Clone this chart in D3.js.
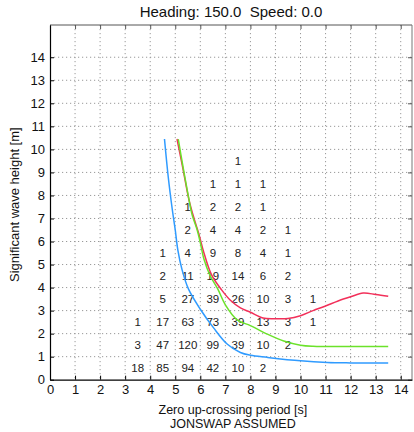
<!DOCTYPE html>
<html>
<head>
<meta charset="utf-8">
<script src="https://cdn.jsdelivr.net/npm/d3@7"></script>
<style>
  body { margin: 0; background: #fff; }
  svg { font-family: "Liberation Sans", Arial, sans-serif; }
</style>
</head>
<body>
<svg id="chart" width="414" height="432"></svg>
<script>
// scatter table: zero up-crossing period bins (columns) x Hs bins (rows)
const tzCenters = [3.5, 4.5, 5.5, 6.5, 7.5, 8.5, 9.5, 10.5];
const hsCenters = [0.5, 1.5, 2.5, 3.5, 4.5, 5.5, 6.5, 7.5, 8.5, 9.5];
const counts = [
    [18, 85, 94, 42, 10, 2, null, null],
    [3, 47, 120, 99, 39, 10, 2, null],
    [1, 17, 63, 73, 39, 13, 3, 1],
    [null, 5, 27, 39, 26, 10, 3, 1],
    [null, 2, 11, 19, 14, 6, 2, null],
    [null, 1, 4, 9, 8, 4, 1, null],
    [null, null, 2, 4, 4, 2, 1, null],
    [null, null, 1, 2, 2, 1, null, null],
    [null, null, null, 1, 1, 1, null, null],
    [null, null, null, null, 1, null, null, null]
];

// contour-like curves [Tz, Hs]
const blueCurve = [[4.57, 10.45], [4.72, 8.8], [4.88, 7.4], [5.0, 6.5], [5.1, 5.65], [5.27, 4.78],
    [5.53, 3.93], [6.0, 3.06], [6.53, 2.25], [7.07, 1.55], [7.6, 1.18], [8.0, 1.06], [8.67, 0.97],
    [10.0, 0.82], [11.07, 0.75], [12.0, 0.73], [13.5, 0.72]];
const greenCurve = [[5.12, 10.45], [5.3, 9.3], [5.5, 8.1], [5.67, 7.17], [5.87, 6.52], [6.0, 5.95],
    [6.15, 5.22], [6.4, 4.5], [6.7, 3.93], [7.0, 3.25], [7.47, 2.6], [8.0, 2.35], [8.67, 1.98],
    [9.33, 1.68], [10.0, 1.5], [10.5, 1.45], [11.0, 1.44], [13.5, 1.44]];
const redCurve = [[5.07, 10.45], [5.3, 9.2], [5.55, 7.8], [5.75, 7.0], [5.95, 6.3], [6.12, 5.6],
    [6.45, 4.55], [6.85, 3.9], [7.2, 3.45], [7.6, 3.12], [8.0, 2.93], [8.5, 2.68], [9.0, 2.65],
    [9.5, 2.66], [10.0, 2.78], [10.5, 3.0], [11.0, 3.2], [11.5, 3.42], [12.0, 3.6], [12.5, 3.76],
    [13.0, 3.7], [13.5, 3.62]];

const xTicks = d3.range(0, 15);
const yTicks = d3.range(0, 15);

const margin = { top: 25, right: 2, bottom: 52, left: 50 },
      width = 414 - margin.left - margin.right,
      height = 432 - margin.top - margin.bottom - 0.3;

const svg = d3.select("#chart")
    .append("g")
    .attr("transform", `translate(${margin.left},${margin.top})`);

const x = d3.scaleLinear().domain([0, 14.45]).range([0, width]);
const y = d3.scaleLinear().domain([0, 15.4]).range([height, 0]);

// grid
svg.append("g")
    .selectAll("line")
    .data(xTicks.slice(1))
    .join("line")
    .attr("x1", d => x(d)).attr("x2", d => x(d))
    .attr("y1", 0).attr("y2", height)
    .attr("stroke", "#999").attr("stroke-dasharray", "1.2,2.8");

svg.append("g")
    .selectAll("line")
    .data(yTicks.slice(1))
    .join("line")
    .attr("x1", 0).attr("x2", width)
    .attr("y1", d => y(d)).attr("y2", d => y(d))
    .attr("stroke", "#999").attr("stroke-dasharray", "1.2,2.8");

// top / right border
svg.append("line").attr("x1", 0).attr("x2", width).attr("y1", 0).attr("y2", 0).attr("stroke", "#555");
svg.append("line").attr("x1", width).attr("x2", width).attr("y1", 0).attr("y2", height).attr("stroke", "#777");

// inner ticks on top and right
svg.append("g").call(d3.axisTop(x).tickValues(xTicks).tickSize(-4).tickFormat(""))
    .call(g => g.select(".domain").remove())
    .selectAll("line").attr("stroke", "#555");
svg.append("g").attr("transform", `translate(${width},0)`)
    .call(d3.axisRight(y).tickValues(yTicks).tickSize(-4).tickFormat(""))
    .call(g => g.select(".domain").remove())
    .selectAll("line").attr("stroke", "#555");

// counts
const cells = [];
hsCenters.forEach((h, j) => tzCenters.forEach((t, i) => {
    if (counts[j][i] != null) cells.push({ t, h, v: counts[j][i] });
}));

svg.append("g")
    .selectAll("text")
    .data(cells)
    .join("text")
    .attr("x", d => x(d.t))
    .attr("y", d => y(d.h))
    .attr("dy", "0.36em")
    .attr("text-anchor", "middle")
    .attr("font-size", 11.5)
    .attr("fill", "#222")
    .text(d => d.v);

// curves
const line = d3.line()
    .x(d => x(d[0]))
    .y(d => y(d[1]))
    .curve(d3.curveCatmullRom.alpha(0.5));

const curves = [
    { data: blueCurve, color: "#2f9bff" },
    { data: redCurve, color: "#f2305a" },
    { data: greenCurve, color: "#6be22a" }
];

svg.append("g")
    .selectAll("path")
    .data(curves)
    .join("path")
    .attr("d", d => line(d.data))
    .attr("fill", "none")
    .attr("stroke", d => d.color)
    .attr("stroke-width", 1.5);

// axes
const xAxis = svg.append("g")
    .attr("transform", `translate(0,${height})`)
    .call(d3.axisBottom(x).tickValues(xTicks).tickSize(-4).tickPadding(5).tickSizeOuter(0));
const yAxis = svg.append("g")
    .call(d3.axisLeft(y).tickValues(yTicks).tickSize(-4).tickPadding(5).tickSizeOuter(0));

[xAxis, yAxis].forEach(g => {
    g.selectAll("text").attr("font-size", 13).attr("fill", "#111").attr("font-family", "Liberation Sans, Arial, sans-serif");
    g.select(".domain").attr("stroke", "#000").attr("stroke-width", 1.2);
});

// titles
svg.append("text")
    .attr("x", width / 2)
    .attr("y", -8)
    .attr("text-anchor", "middle")
    .attr("font-size", 15)
    .attr("fill", "#111")
    .attr("xml:space", "preserve")
    .text("Heading: 150.0  Speed: 0.0");

svg.append("text")
    .attr("x", x(7.3))
    .attr("y", height + 34)
    .attr("text-anchor", "middle")
    .attr("font-size", 12.5)
    .attr("fill", "#111")
    .text("Zero up-crossing period [s]");

svg.append("text")
    .attr("x", x(7.3))
    .attr("y", height + 48)
    .attr("text-anchor", "middle")
    .attr("font-size", 12.5)
    .attr("fill", "#111")
    .text("JONSWAP ASSUMED");

svg.append("text")
    .attr("transform", `translate(-31,${y(7.6)}) rotate(-90)`)
    .attr("text-anchor", "middle")
    .attr("font-size", 13)
    .attr("fill", "#111")
    .text("Significant wave height [m]");
</script>
</body>
</html>
